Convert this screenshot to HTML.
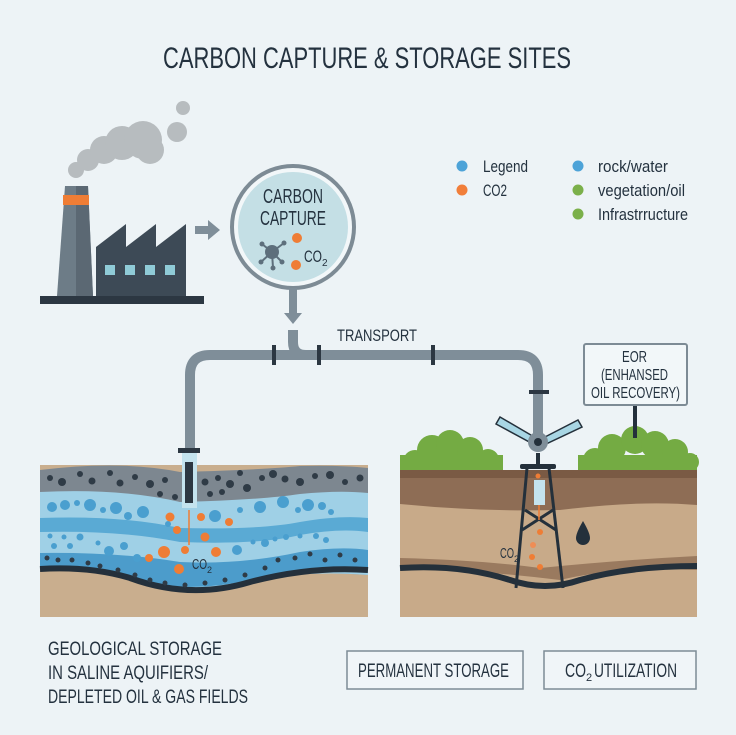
<!DOCTYPE html>
<html><head><meta charset="utf-8"><style>
html,body{margin:0;padding:0;background:#edf3f6;}
svg{display:block}
text{font-family:"Liberation Sans Narrow","Liberation Sans",sans-serif;fill:#24323f;}
</style></head><body>
<svg width="736" height="735" viewBox="0 0 736 735" xmlns="http://www.w3.org/2000/svg">
<rect width="736" height="735" fill="#edf3f6"/>
<text x="367" y="68" font-size="30" text-anchor="middle" textLength="408" lengthAdjust="spacingAndGlyphs">CARBON CAPTURE &amp; STORAGE SITES</text>

<!-- smoke -->
<g fill="#b7bcbf">
<circle cx="76" cy="170" r="8"/><circle cx="88" cy="160" r="11"/><circle cx="104" cy="150" r="14"/>
<circle cx="122" cy="143" r="17"/><circle cx="143" cy="140" r="19"/><circle cx="150" cy="150" r="14"/>
<circle cx="177" cy="132" r="10"/><circle cx="183" cy="108" r="7"/>
</g>
<!-- factory -->
<polygon points="65,186 88,186 93,296 57,296" fill="#6d7c87"/>
<polygon points="76,186 88,186 93,296 76,296" fill="#5b6873"/>
<rect x="63" y="195" width="26" height="10" fill="#ef7d35"/>
<polygon points="96,296 96,247 126,224 126,247 156,224 156,247 186,224 186,296" fill="#3d4a56"/>
<g fill="#8fcbd7"><rect x="105" y="265" width="10" height="10"/><rect x="125" y="265" width="10" height="10"/><rect x="145" y="265" width="10" height="10"/><rect x="165" y="265" width="10" height="10"/></g>
<rect x="40" y="296" width="164" height="8" fill="#2c3742"/>
<polygon points="195,226 208,226 208,220 220,230 208,240 208,234 195,234" fill="#7f8e99"/>

<!-- capture circle -->
<circle cx="293" cy="227" r="61" fill="#f2f7f9" stroke="#7d8b95" stroke-width="4"/>
<circle cx="293" cy="227" r="55" fill="#c4dfe5"/>
<text x="263" y="203" font-size="20" textLength="60" lengthAdjust="spacingAndGlyphs">CARBON</text>
<text x="260" y="225" font-size="20" textLength="66" lengthAdjust="spacingAndGlyphs">CAPTURE</text>
<g stroke="#5d6f7c" stroke-width="2"><line x1="272" y1="252" x2="262" y2="244"/><line x1="272" y1="252" x2="284" y2="243"/><line x1="272" y1="252" x2="261" y2="262"/><line x1="272" y1="252" x2="282" y2="262"/><line x1="272" y1="252" x2="273" y2="268"/></g>
<g fill="#5d6f7c"><circle cx="272" cy="252" r="7"/><circle cx="262" cy="244" r="2.5"/><circle cx="284" cy="243" r="2.5"/><circle cx="261" cy="262" r="2.5"/><circle cx="282" cy="262" r="2.5"/><circle cx="273" cy="268" r="2.5"/></g>
<circle cx="297" cy="238" r="5" fill="#ef7d35"/><circle cx="296" cy="265" r="5" fill="#ef7d35"/>
<text x="304" y="262" font-size="17" textLength="18" lengthAdjust="spacingAndGlyphs">CO</text>
<text x="322" y="266" font-size="10">2</text>
<rect x="289" y="288" width="8" height="26" fill="#7f8e99"/>
<polygon points="284,313 302,313 293,324" fill="#7f8e99"/>

<!-- pipes -->
<g fill="none" stroke="#7f8e99" stroke-width="10">
<path d="M293,330 L293,342 Q293,355 306,355"/>
<path d="M190,450 L190,375 Q190,355 210,355 L518,355 Q538,355 538,375 L538,440"/>
</g>
<g fill="#2c3742"><rect x="272" y="345" width="4" height="20"/><rect x="317" y="345" width="4" height="20"/><rect x="431" y="345" width="4" height="20"/><rect x="529" y="390" width="20" height="4"/></g>
<text x="337" y="341" font-size="17" textLength="80" lengthAdjust="spacingAndGlyphs">TRANSPORT</text>

<!-- legend -->
<g font-size="17">
<circle cx="462" cy="166" r="5.5" fill="#4da3d8"/><text x="483" y="172" textLength="45" lengthAdjust="spacingAndGlyphs">Legend</text>
<circle cx="462" cy="190" r="5.5" fill="#f17e3a"/><text x="483" y="196" textLength="24" lengthAdjust="spacingAndGlyphs">CO2</text>
<circle cx="578" cy="166" r="5.5" fill="#4da3d8"/><text x="598" y="172" textLength="70" lengthAdjust="spacingAndGlyphs">rock/water</text>
<circle cx="578" cy="190" r="5.5" fill="#7bb04a"/><text x="598" y="196" textLength="87" lengthAdjust="spacingAndGlyphs">vegetation/oil</text>
<circle cx="578" cy="214" r="5.5" fill="#7bb04a"/><text x="598" y="220" textLength="90" lengthAdjust="spacingAndGlyphs">Infrastrructure</text>
</g>

<!-- left geology -->
<g>
<rect x="40" y="465" width="328" height="152" fill="#c9ae8e"/>
<path d="M40,470 Q120,460 180,472 Q260,470 300,466 Q340,465 368,468 L368,575 Q300,570 250,582 Q180,596 120,575 Q80,565 40,565 Z" fill="#7d8790"/>
<path d="M40,492 Q120,488 180,502 Q260,500 300,494 Q340,490 368,493 L368,575 Q300,570 250,582 Q180,596 120,575 Q80,565 40,565 Z" fill="#9fd0e6"/>
<path d="M40,518 Q120,515 180,528 Q260,530 300,522 Q340,515 368,518 L368,532 Q340,528 300,535 Q260,545 180,542 Q120,530 40,532 Z" fill="#5aaad4"/>
<path d="M40,553 Q120,552 180,562 Q240,565 300,552 Q340,546 368,550 L368,570 Q300,566 250,580 Q180,596 120,575 Q80,566 40,567 Z" fill="#4c9ccb"/>
<path d="M40,569 Q90,566 130,578 Q190,600 250,582 Q310,566 368,570" fill="none" stroke="#24303b" stroke-width="6"/>
<g fill="#2f3b46">
<circle cx="50" cy="478" r="3"/><circle cx="62" cy="482" r="4"/><circle cx="80" cy="474" r="3"/><circle cx="92" cy="481" r="3.5"/><circle cx="110" cy="473" r="3"/><circle cx="120" cy="483" r="3.5"/><circle cx="135" cy="477" r="3"/><circle cx="150" cy="484" r="4"/><circle cx="165" cy="480" r="3"/><circle cx="160" cy="494" r="3"/><circle cx="175" cy="497" r="3"/><circle cx="205" cy="482" r="3.5"/><circle cx="218" cy="478" r="3"/><circle cx="230" cy="484" r="4"/><circle cx="240" cy="473" r="3"/><circle cx="247" cy="488" r="4"/><circle cx="262" cy="478" r="3"/><circle cx="273" cy="474" r="4"/><circle cx="285" cy="479" r="3.5"/><circle cx="300" cy="482" r="4"/><circle cx="315" cy="476" r="3"/><circle cx="330" cy="475" r="4"/><circle cx="345" cy="482" r="3"/><circle cx="360" cy="478" r="3.5"/><circle cx="210" cy="494" r="3"/><circle cx="222" cy="492" r="3"/>
<circle cx="47" cy="558" r="2.5"/><circle cx="58" cy="560" r="2.5"/><circle cx="72" cy="560" r="2.5"/><circle cx="88" cy="563" r="2.5"/><circle cx="100" cy="566" r="2.5"/><circle cx="118" cy="570" r="2.5"/><circle cx="135" cy="575" r="2.5"/><circle cx="150" cy="580" r="2.5"/><circle cx="165" cy="583" r="2.5"/><circle cx="185" cy="585" r="2.5"/><circle cx="205" cy="583" r="2.5"/><circle cx="225" cy="580" r="2.5"/><circle cx="245" cy="575" r="2.5"/><circle cx="265" cy="568" r="2.5"/><circle cx="278" cy="560" r="2.5"/><circle cx="295" cy="558" r="2.5"/><circle cx="310" cy="554" r="2.5"/><circle cx="325" cy="560" r="2.5"/><circle cx="340" cy="555" r="2.5"/><circle cx="355" cy="560" r="2.5"/>
</g>
<g fill="#4a9fcf">
<circle cx="52" cy="507" r="5"/><circle cx="65" cy="505" r="5"/><circle cx="77" cy="503" r="3"/><circle cx="90" cy="505" r="6"/><circle cx="103" cy="510" r="3"/><circle cx="116" cy="508" r="6"/><circle cx="128" cy="516" r="4"/><circle cx="143" cy="512" r="6"/><circle cx="168" cy="524" r="3"/><circle cx="215" cy="516" r="6"/><circle cx="240" cy="510" r="3"/><circle cx="260" cy="507" r="6"/><circle cx="283" cy="502" r="6"/><circle cx="298" cy="510" r="3"/><circle cx="308" cy="505" r="6"/><circle cx="322" cy="506" r="4"/><circle cx="331" cy="512" r="3"/>
<circle cx="50" cy="536" r="2.5"/><circle cx="64" cy="537" r="2.5"/><circle cx="80" cy="537" r="3.5"/><circle cx="54" cy="546" r="3"/><circle cx="70" cy="546" r="3"/><circle cx="98" cy="543" r="2.5"/><circle cx="109" cy="551" r="5"/><circle cx="124" cy="546" r="4"/><circle cx="137" cy="558" r="4"/><circle cx="237" cy="550" r="5"/><circle cx="253" cy="542" r="2.5"/><circle cx="265" cy="543" r="4"/><circle cx="275" cy="539" r="2.5"/><circle cx="286" cy="537" r="3"/><circle cx="300" cy="536" r="2.5"/><circle cx="316" cy="536" r="3"/><circle cx="326" cy="540" r="3"/>
</g>
<circle cx="170" cy="517" r="4.5" fill="#ef7d35"/><circle cx="201" cy="517" r="4" fill="#ef7d35"/><circle cx="229" cy="522" r="4" fill="#ef7d35"/>
<circle cx="177" cy="530" r="4" fill="#ef7d35"/><circle cx="205" cy="537" r="4.5" fill="#ef7d35"/><circle cx="149" cy="558" r="4" fill="#ef7d35"/>
<circle cx="164" cy="552" r="6" fill="#ef7d35"/><circle cx="185" cy="550" r="4" fill="#ef7d35"/><circle cx="216" cy="552" r="5" fill="#ef7d35"/><circle cx="179" cy="569" r="5" fill="#ef7d35"/>
<line x1="189" y1="510" x2="189" y2="545" stroke="#ef7d35" stroke-width="1.5"/>
<text x="192" y="569" font-size="15" textLength="15" lengthAdjust="spacingAndGlyphs">CO</text>
<text x="207" y="573" font-size="9">2</text>
<rect x="182" y="450" width="15" height="58" fill="#c4e3ee"/>
<rect x="185" y="462" width="8" height="41" fill="#2c3742"/>
<rect x="178" y="448" width="22" height="5" fill="#2c3742"/>
</g>

<!-- right site -->
<g>
<g fill="#74ab43">
<circle cx="415" cy="462" r="12"/><circle cx="432" cy="450" r="15"/><circle cx="450" cy="444" r="14"/><circle cx="470" cy="450" r="13"/><circle cx="488" cy="460" r="11"/><rect x="400" y="455" width="103" height="16"/>
<circle cx="595" cy="460" r="12"/><circle cx="612" cy="448" r="14"/><circle cx="635" cy="440" r="14"/><circle cx="655" cy="445" r="14"/><circle cx="675" cy="452" r="13"/><circle cx="690" cy="462" r="9"/><rect x="578" y="455" width="119" height="16"/>
</g>
<rect x="400" y="470" width="297" height="147" fill="#c8aa89"/>
<rect x="400" y="470" width="297" height="8" fill="#7a5a44"/>
<path d="M400,478 L697,478 L697,505 Q640,500 560,510 Q480,512 400,504 Z" fill="#8e6d55"/>
<path d="M400,558 Q480,560 540,568 Q620,560 697,556 L697,570 Q620,566 560,580 Q480,570 400,568 Z" fill="#9a7a5f"/>
<path d="M400,568 Q460,564 510,580 Q545,592 580,580 Q630,566 697,566" fill="none" stroke="#24303b" stroke-width="6"/>
<path d="M583,521 Q576,533 576,538 A7,7 0 0 0 590,538 Q590,533 583,521 Z" fill="#24303b"/>
<!-- derrick -->
<g stroke="#24303b" stroke-width="3" fill="none">
<line x1="527" y1="468" x2="516" y2="588"/><line x1="549" y1="468" x2="563" y2="588"/>
<line x1="525" y1="510" x2="556" y2="530"/><line x1="553" y1="510" x2="522" y2="530"/>
</g>
<rect x="520" y="464" width="36" height="5" rx="2" fill="#24303b"/>
<rect x="536" y="453" width="4" height="12" fill="#24303b"/>
<rect x="534" y="480" width="11" height="25" fill="#c4e3ee"/>
<circle cx="538" cy="476" r="2.5" fill="#ef7d35"/>
<line x1="539" y1="505" x2="539" y2="520" stroke="#ef7d35" stroke-width="1.5"/>
<circle cx="540" cy="532" r="3" fill="#ef7d35"/><circle cx="533" cy="545" r="3" fill="#ef8d55"/><circle cx="532" cy="557" r="3" fill="#ef7d35"/><circle cx="540" cy="567" r="3" fill="#ef7d35"/>
<text x="500" y="558" font-size="15" textLength="14" lengthAdjust="spacingAndGlyphs">CO</text>
<text x="514" y="562" font-size="9">2</text>
<g stroke="#24303b" stroke-width="1.5" fill="#a8d6e4">
<polygon points="496,424 500,417 536,438 533,444"/>
<polygon points="543,438 578,420 582,427 546,444"/>
</g>
<circle cx="538" cy="442" r="10" fill="#7f8e99"/><circle cx="538" cy="442" r="4" fill="#24303b"/>
<rect x="633" y="404" width="4" height="34" fill="#24303b"/>
<rect x="584" y="344" width="103" height="61" rx="2" fill="#f2f7f9" stroke="#7d8b95" stroke-width="2"/>
<text x="622" y="362" font-size="16" textLength="25" lengthAdjust="spacingAndGlyphs">EOR</text>
<text x="601" y="380" font-size="16" textLength="67" lengthAdjust="spacingAndGlyphs">(ENHANSED</text>
<text x="591" y="398" font-size="16" textLength="89" lengthAdjust="spacingAndGlyphs">OIL RECOVERY)</text>
</g>

<!-- bottom labels -->
<g font-size="19">
<text x="48" y="655" textLength="174" lengthAdjust="spacingAndGlyphs">GEOLOGICAL STORAGE</text>
<text x="48" y="679" textLength="160" lengthAdjust="spacingAndGlyphs">IN SALINE AQUIFIERS/</text>
<text x="48" y="703" textLength="200" lengthAdjust="spacingAndGlyphs">DEPLETED OIL &amp; GAS FIELDS</text>
</g>
<rect x="347" y="651" width="176" height="38" fill="#f0f5f8" stroke="#7d8b95" stroke-width="1.5"/>
<text x="358" y="677" font-size="19" textLength="151" lengthAdjust="spacingAndGlyphs">PERMANENT STORAGE</text>
<rect x="544" y="651" width="152" height="38" fill="#f0f5f8" stroke="#7d8b95" stroke-width="1.5"/>
<text x="565" y="677" font-size="19" textLength="21" lengthAdjust="spacingAndGlyphs">CO</text>
<text x="586" y="681" font-size="11">2</text>
<text x="594" y="677" font-size="19" textLength="83" lengthAdjust="spacingAndGlyphs">UTILIZATION</text>
</svg>
</body></html>
